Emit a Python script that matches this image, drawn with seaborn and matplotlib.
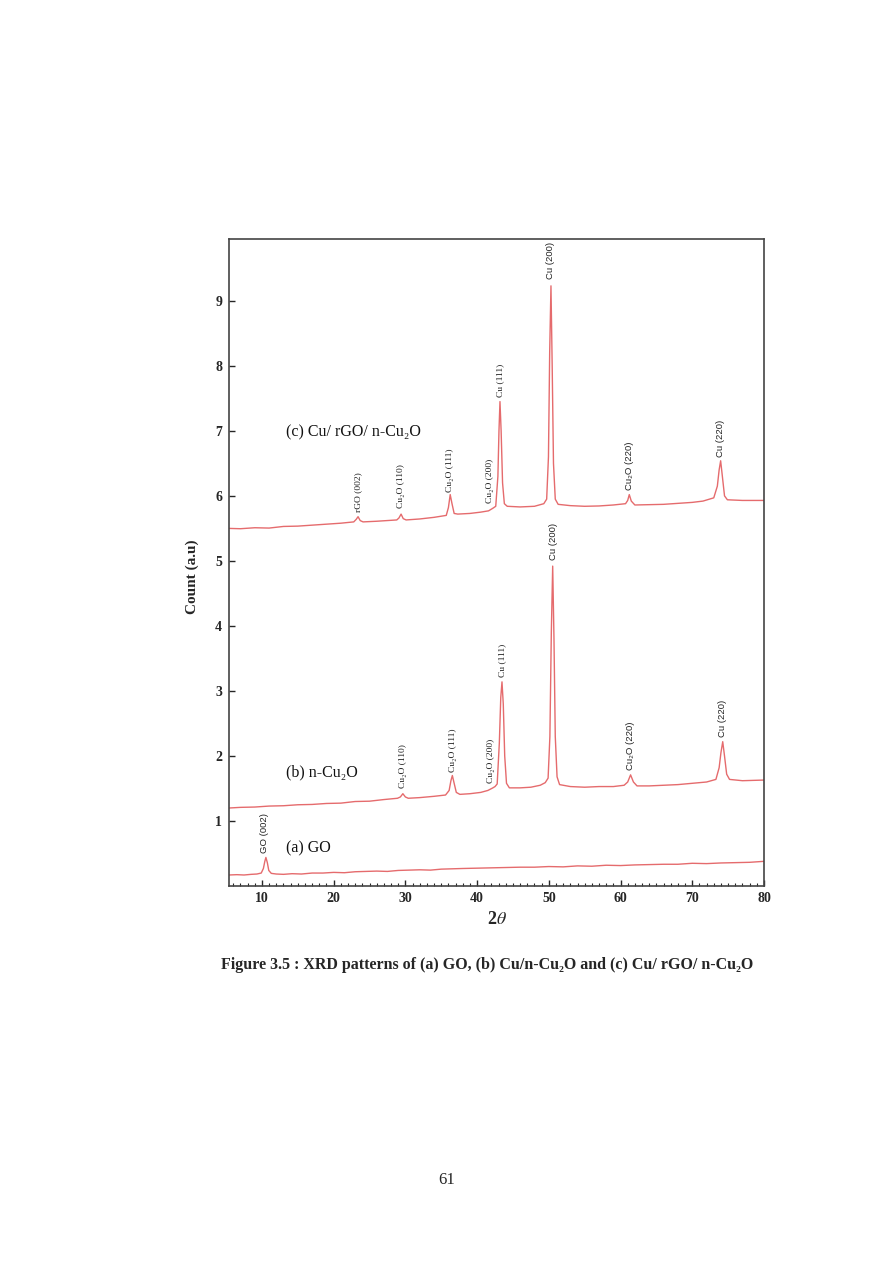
import seaborn as sns
import matplotlib.pyplot as plt
import pandas as pd
from matplotlib.ticker import MultipleLocator

# XRD patterns (2theta, count a.u.)
go_x = [5.4, 6.5, 7.5, 8.5, 9.3, 9.9, 10.2, 10.4, 10.55, 10.75, 10.95, 11.3, 12.0, 13.0, 14.2,
        15.5, 17.0, 18.5, 20.0, 21.5, 23.0, 24.5, 26.0, 27.5, 29.0, 30.5, 32.0, 33.5, 35.0,
        36.5, 38.0, 40.0, 42.0, 44.0, 46.0, 48.0, 50.0, 52.0, 54.0, 56.0, 58.0, 60.0, 62.0,
        64.0, 66.0, 68.0, 70.0, 72.0, 74.0, 76.0, 78.0, 80.0]
go_y = [0.17, 0.175, 0.17, 0.18, 0.185, 0.20, 0.27, 0.38, 0.44, 0.36, 0.24, 0.195, 0.185, 0.18, 0.19,
        0.185, 0.20, 0.2, 0.21, 0.205, 0.22, 0.225, 0.23, 0.225, 0.24, 0.245, 0.25, 0.245, 0.26,
        0.265, 0.27, 0.275, 0.28, 0.285, 0.29, 0.29, 0.30, 0.295, 0.31, 0.305, 0.32, 0.315, 0.325,
        0.33, 0.335, 0.335, 0.35, 0.345, 0.355, 0.36, 0.365, 0.38]

b_x = [5.4, 7.0, 9.0, 11.0, 13.0, 15.0, 17.0, 19.0, 21.0, 23.0, 25.0, 27.0, 28.9, 29.3, 29.65,
       30.0, 30.4, 32.0, 34.0, 35.6, 36.1, 36.35, 36.55, 36.8, 37.1, 37.6, 39.0, 40.5, 41.5,
       42.2, 42.5, 42.8, 43.1, 43.3, 43.47, 43.65, 43.85, 44.1, 44.5, 46.0, 47.5, 48.8, 49.5,
       49.9, 50.15, 50.35, 50.54, 50.72, 50.9, 51.15, 51.5, 53.0, 55.0, 57.0, 59.0, 60.5, 61.0,
       61.4, 61.8, 62.3, 64.0, 66.0, 68.0, 70.0, 72.0, 73.3, 73.75, 74.0, 74.25, 74.5, 74.8,
       75.2, 77.0, 80.0]
b_y = [1.20, 1.21, 1.215, 1.23, 1.235, 1.25, 1.255, 1.27, 1.275, 1.30, 1.305, 1.33, 1.35, 1.37, 1.42,
       1.37, 1.35, 1.36, 1.38, 1.40, 1.47, 1.62, 1.70, 1.58, 1.44, 1.41, 1.42, 1.44, 1.47,
       1.51, 1.53, 1.57, 2.20, 2.90, 3.14, 2.80, 2.00, 1.58, 1.51, 1.51, 1.52, 1.55, 1.59,
       1.66, 2.30, 3.90, 4.92, 3.80, 2.30, 1.68, 1.56, 1.53, 1.52, 1.53, 1.53, 1.55, 1.60,
       1.71, 1.60, 1.54, 1.54, 1.55, 1.56, 1.58, 1.60, 1.64, 1.82, 2.05, 2.22, 2.00, 1.72,
       1.64, 1.62, 1.63]

c_x = [5.4, 7.0, 9.0, 11.0, 13.0, 15.0, 17.0, 19.0, 21.0, 22.8, 23.15, 23.4, 23.7, 24.1, 26.0,
       28.8, 29.1, 29.4, 29.7, 30.1, 32.0, 34.0, 35.7, 36.0, 36.25, 36.5, 36.8, 37.3, 39.0,
       40.5, 41.6, 42.2, 42.6, 42.9, 43.05, 43.19, 43.35, 43.55, 43.8, 44.2, 46.0, 48.0, 49.3,
       49.7, 49.95, 50.12, 50.3, 50.47, 50.65, 50.9, 51.3, 53.0, 55.0, 57.0, 59.0, 60.7, 61.0,
       61.22, 61.5, 62.0, 64.0, 66.0, 68.0, 70.0, 71.5, 73.0, 73.5, 73.75, 73.96, 74.2, 74.5,
       74.9, 77.0, 80.0]
c_y = [5.50, 5.495, 5.51, 5.505, 5.53, 5.535, 5.55, 5.565, 5.58, 5.60, 5.64, 5.68, 5.62, 5.60, 5.61,
       5.63, 5.66, 5.72, 5.65, 5.63, 5.645, 5.67, 5.70, 5.82, 6.02, 5.88, 5.73, 5.72, 5.73,
       5.75, 5.77, 5.81, 5.84, 6.30, 7.00, 7.45, 7.00, 6.20, 5.88, 5.84, 5.83, 5.84, 5.88,
       5.95, 6.60, 8.20, 9.23, 8.00, 6.50, 5.95, 5.87, 5.85, 5.84, 5.845, 5.86, 5.88, 5.93,
       6.02, 5.92, 5.86, 5.865, 5.87, 5.885, 5.90, 5.92, 5.97, 6.15, 6.40, 6.54, 6.30, 6.00,
       5.94, 5.93, 5.93]

# peak labels: text, 2theta, bottom of label, font
peak_text = ["GO (002)",
             "Cu₂O (110)", "Cu₂O (111)", "Cu₂O (200)", "Cu (111)", "Cu (200)", "Cu₂O (220)", "Cu (220)",
             "rGO (002)", "Cu₂O (110)", "Cu₂O (111)", "Cu₂O (200)", "Cu (111)", "Cu (200)", "Cu₂O (220)", "Cu (220)"]
peak_pos = [10.4,
            29.7, 36.6, 42.0, 43.55, 50.6, 61.4, 74.25,
            23.4, 29.4, 36.25, 41.8, 43.2, 50.3, 61.2, 73.95]
peak_base = [0.51,
             1.51, 1.75, 1.585, 3.22, 5.02, 1.78, 2.29,
             5.75, 5.82, 6.06, 5.89, 7.52, 9.34, 6.09, 6.60]
peak_sans = [True,
             False, False, False, False, True, True, True,
             False, False, False, False, False, True, True, True]

sample_text = ["(a) GO", "(b) n-Cu₂O", "(c) Cu/ rGO/ n-Cu₂O"]
sample_x = [13.3, 13.35, 13.35]
sample_y = [0.58, 1.75, 6.98]

x_ticks = [10, 20, 30, 40, 50, 60, 70, 80]
y_ticks = [1, 2, 3, 4, 5, 6, 7, 8, 9]

serif = ['Liberation Serif', 'DejaVu Serif']
sans = ['Liberation Sans', 'DejaVu Sans']

sns.set_style('ticks')
plt.rcParams['font.family'] = serif
plt.rcParams['mathtext.fontset'] = 'stix'

fig = plt.figure(figsize=(8.93, 12.62), dpi=100)
ax = fig.add_axes([0.2564, 0.2979, 0.5991, 0.5127])

line_col = '#e56b6d'
for xs, ys in [(go_x, go_y), (b_x, b_y), (c_x, c_y)]:
    df = pd.DataFrame({'two_theta': xs, 'count': ys})
    sns.lineplot(data=df, x='two_theta', y='count', ax=ax, color=line_col,
                 linewidth=1.0, estimator=None, sort=False)

ax.set_xlim(5.4, 80)
ax.set_ylim(0, 9.95)
ax.set_xticks(x_ticks)
ax.set_yticks(y_ticks)
ax.xaxis.set_minor_locator(MultipleLocator(1))
ax.tick_params(axis='x', which='major', direction='in', length=4, width=1, pad=4,
               labelsize=10, top=False)
ax.tick_params(axis='x', which='minor', direction='in', length=2.5, width=0.8, top=False)
ax.tick_params(axis='y', which='major', direction='in', length=4, width=1, pad=5,
               labelsize=10, right=False)
for lab in ax.get_xticklabels() + ax.get_yticklabels():
    lab.set_fontweight('bold')
for sp in ax.spines.values():
    sp.set_color('#444444')
    sp.set_linewidth(1.2)

ax.set_xlabel(r'2$\theta$', fontsize=13, fontweight='bold')
ax.set_ylabel('Count (a.u)', fontsize=11, fontweight='bold')
ax.xaxis.set_label_coords(0.5, -0.038)
ax.yaxis.set_label_coords(-0.056, 0.478)

for t, px, py, s in zip(peak_text, peak_pos, peak_base, peak_sans):
    ax.text(px, py, t, rotation=90, ha='center', va='bottom', fontsize=6.8,
            family=sans if s else serif, color='#222222')

for t, px, py in zip(sample_text, sample_x, sample_y):
    ax.text(px, py, t, ha='left', va='center', fontsize=11.5, family=serif, color='#111111')

fig.text(0.546, 1 - 965 / 1262, 'Figure 3.5 : XRD patterns of (a) GO, (b) Cu/n-Cu₂O and (c) Cu/ rGO/ n-Cu₂O',
         ha='center', va='center', fontsize=11.5, fontweight='bold', family=serif)
fig.text(447 / 893, 1 - 1180 / 1262, '61', ha='center', va='center', fontsize=12, family=serif)

fig.savefig('out.png', dpi=100)
